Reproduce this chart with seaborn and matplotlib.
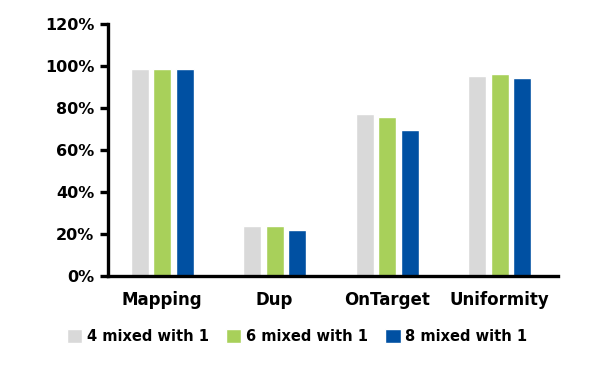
import pandas as pd
import seaborn as sns
import matplotlib.pyplot as plt
from matplotlib.ticker import PercentFormatter

# Werte (in %)
categories = ["Mapping", "Dup", "OnTarget", "Uniformity"]
series_names = ["4 mixed with 1", "6 mixed with 1", "8 mixed with 1"]
mix4 = [98.5, 23.6, 77.4, 95.5]
mix6 = [98.7, 24.0, 76.0, 96.4]
mix8 = [98.7, 22.1, 69.8, 94.5]
colors = ["#d9d9d9", "#a8d05a", "#0050a2"]

rows = []
for name, vals in zip(series_names, [mix4, mix6, mix8]):
    for cat, v in zip(categories, vals):
        rows.append({"cat": cat, "series": name, "value": v})
df = pd.DataFrame(rows)

sns.set_style("white")
plt.rcParams["font.family"] = ["DejaVu Sans"]
plt.rcParams["text.color"] = "black"
plt.rcParams["xtick.color"] = "black"
plt.rcParams["ytick.color"] = "black"

fig = plt.figure(figsize=(6, 3.72), dpi=100)
ax = fig.add_axes([0.18, 0.258, 0.75, 0.677])

sns.barplot(data=df, x="cat", y="value", hue="series", palette=colors,
            width=0.6, gap=0.2, ax=ax, saturation=1)

ax.set_ylim(0, 120)
ax.set_yticks(range(0, 121, 20))
ax.yaxis.set_major_formatter(PercentFormatter(decimals=0))
ax.set_xlim(-0.48, 3.52)
ax.set_xlabel("")
ax.set_ylabel("")

for s in ["top", "right"]:
    ax.spines[s].set_visible(False)
for s in ["left", "bottom"]:
    ax.spines[s].set_color("black")
    ax.spines[s].set_linewidth(2.4)

ax.tick_params(axis="y", left=True, length=6, width=2.4, color="black",
               labelsize=11.5, pad=4)
ax.tick_params(axis="x", bottom=False, labelsize=12, pad=7)
for lab in ax.get_xticklabels() + ax.get_yticklabels():
    lab.set_fontweight("bold")

leg = ax.legend(loc="upper center", bbox_to_anchor=(0.42, -0.16), ncol=3,
                frameon=False, fontsize=10.5, handlelength=1.05, handleheight=1.1,
                handletextpad=0.3, columnspacing=1.2)
for t in leg.get_texts():
    t.set_fontweight("bold")

fig.savefig("out.png", dpi=100)
